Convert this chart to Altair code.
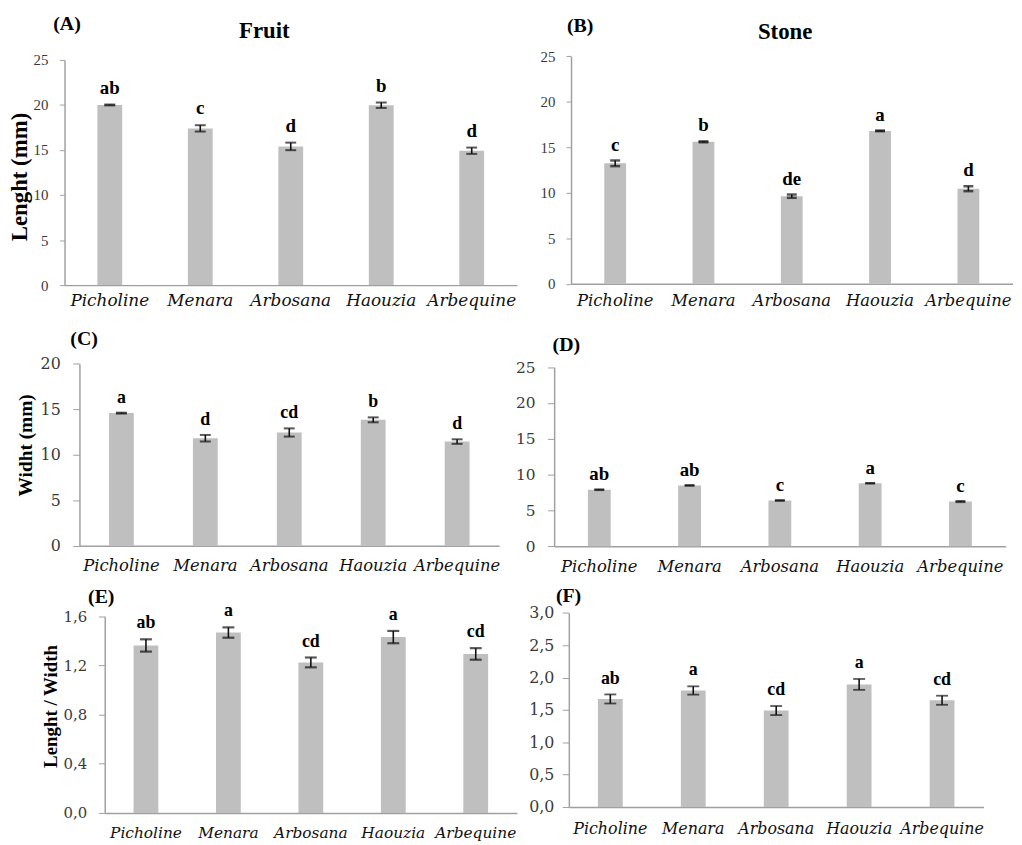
import altair as alt
import pandas as pd

cultivars = ["Picholine", "Menara", "Arbosana", "Haouzia", "Arbequine"]

# (A) Fruit length (mm)
fruit_len = [20.0, 17.4, 15.4, 19.97, 14.92]
fruit_len_err = [0.05, 0.35, 0.42, 0.3, 0.35]
fruit_len_let = ["ab", "c", "d", "b", "d"]

# (B) Stone length (mm)
stone_len = [13.24, 15.6, 9.63, 16.8, 10.45]
stone_len_err = [0.31, 0.05, 0.18, 0.03, 0.27]
stone_len_let = ["c", "b", "de", "a", "d"]

# (C) Fruit width (mm)
fruit_wid = [14.58, 11.82, 12.45, 13.84, 11.45]
fruit_wid_err = [0.05, 0.36, 0.45, 0.27, 0.25]
fruit_wid_let = ["a", "d", "cd", "b", "d"]

# (D) Stone width (mm)
stone_wid = [7.9, 8.5, 6.4, 8.8, 6.25]
stone_wid_err = [0.05, 0.05, 0.05, 0.04, 0.08]
stone_wid_let = ["ab", "ab", "c", "a", "c"]

# (E) Fruit length / width
fruit_ratio = [1.362, 1.467, 1.224, 1.43, 1.293]
fruit_ratio_err = [0.05, 0.042, 0.04, 0.05, 0.047]
fruit_ratio_let = ["ab", "a", "cd", "a", "cd"]

# (F) Stone length / width
stone_ratio = [1.669, 1.80, 1.49, 1.894, 1.649]
stone_ratio_err = [0.07, 0.064, 0.07, 0.084, 0.07]
stone_ratio_let = ["ab", "a", "cd", "a", "cd"]

ticks_25 = [0, 5, 10, 15, 20, 25]
ticks_20 = [0, 5, 10, 15, 20]
ticks_16 = [0, 0.4, 0.8, 1.2, 1.6]
ticks_30 = [0, 0.5, 1.0, 1.5, 2.0, 2.5, 3.0]

SERIF = "Liberation Serif"
WIDE = "DejaVu Serif"
BAR = "#bfbfbf"
AXC = "#a0a0a0"

# grid cells (pixels)
COL_W = [512, 502]
ROW_H = [310, 268, 259]


def label(text, xy, size, angle=0):
    return alt.Chart(pd.DataFrame({"t": [text]})).mark_text(
        font=SERIF, fontWeight="bold", fontSize=size, baseline="middle", align="center",
        color="#000000", angle=angle
    ).encode(x=alt.value(xy[0]), y=alt.value(xy[1]), text="t:N")


def panel(cw, chh, vals, errs, lets, ymax, yticks, comma,
          xr, yr, bar, cap, capw,
          tick_font, tick_fs, tick_size, label_pad,
          xfs, xpad, ytitle, ytitle_fs, ytitle_xy,
          let_fs, let_gap, tag, tag_xy, head=None, head_xy=None):
    df = pd.DataFrame({
        "cat": cultivars,
        "val": vals,
        "lo": [v - e for v, e in zip(vals, errs)],
        "hi": [v + e for v, e in zip(vals, errs)],
        "let": lets,
    })
    yscale = alt.Scale(domain=[0, ymax], range=[yr[0], yr[1]], nice=False, zero=True)
    xenc = alt.X(
        "cat:N", sort=cultivars, title=None,
        scale=alt.Scale(range=[xr[0], xr[1]], paddingInner=0, paddingOuter=0),
        axis=alt.Axis(labelAngle=0, ticks=False, labelPadding=xpad,
                      offset=-(chh - yr[0]),
                      labelFont=WIDE, labelFontStyle="italic", labelFontSize=xfs,
                      labelColor="#111111", labelBaseline="top",
                      labelOverlap=False, domainColor=AXC, domainWidth=1.5),
    )
    yaxis_kw = dict(
        values=yticks, grid=False, tickSize=tick_size, tickColor=AXC,
        offset=-xr[0], title=None,
        domainColor=AXC, domainWidth=1.5, labelFont=tick_font,
        labelFontSize=tick_fs, labelColor="#3a3a3a", labelPadding=label_pad,
    )
    if comma:
        yaxis_kw["labelExpr"] = "replace(format(datum.value, '.1f'), '.', ',')"
    yaxis = alt.Axis(**yaxis_kw)
    base = alt.Chart(df).encode(x=xenc)
    bars = base.mark_bar(size=bar, color=BAR).encode(
        y=alt.Y("val:Q", scale=yscale, axis=yaxis)
    )
    rules = base.mark_rule(color="#111111", strokeWidth=1.6).encode(
        y=alt.Y("lo:Q", scale=yscale, axis=yaxis), y2="hi:Q"
    )
    cap_hi = base.mark_tick(size=cap, thickness=capw, color="#111111").encode(
        y=alt.Y("hi:Q", scale=yscale, axis=yaxis)
    )
    cap_lo = base.mark_tick(size=cap, thickness=capw, color="#111111").encode(
        y=alt.Y("lo:Q", scale=yscale, axis=yaxis)
    )
    letters = base.mark_text(font=SERIF, fontWeight="bold", fontSize=let_fs,
                             baseline="alphabetic", dy=-let_gap, color="#000000").encode(
        y=alt.Y("hi:Q", scale=yscale, axis=yaxis), text="let:N"
    )
    layers = [bars, rules, cap_hi, cap_lo, letters, label(tag, tag_xy, 20)]
    if head:
        layers.append(label(head, head_xy, 23))
    if ytitle:
        layers.append(label(ytitle, ytitle_xy, ytitle_fs, angle=270))
    return alt.layer(*layers).properties(width=cw, height=chh)


pA = panel(COL_W[0], ROW_H[0], fruit_len, fruit_len_err, fruit_len_let, 25, ticks_25, False,
           (57, 513), (276, 49), 25, 11, 2,
           SERIF, 15, 5, 11.7, 17, 8, "Lenght (mm)", 23, (12, 167),
           19, 11, "(A)", (59.5, 13), "Fruit", (258.4, 19.5))
pB = panel(COL_W[1], ROW_H[0], stone_len, stone_len_err, stone_len_let, 25, ticks_25, False,
           (55.5, 500.5), (274.7, 45.3), 22, 10, 2.5,
           SERIF, 15, 5, 11.2, 16.5, 9, None, 0, None,
           19, 10, "(B)", (64.7, 15.3), "Stone", (271.3, 21.2))
pC = panel(COL_W[0], ROW_H[1], fruit_wid, fruit_wid_err, fruit_wid_let, 20, ticks_20, False,
           (72, 495), (228.7, 45.3), 25, 11, 2,
           WIDE, 16, 6.7, 12.6, 16.5, 12, "Widht (mm)", 19.5, (17.8, 127.5),
           18, 10, "(C)", (76.7, 20))
pD = panel(COL_W[1], ROW_H[1], stone_wid, stone_wid_err, stone_wid_let, 25, ticks_25, False,
           (38.5, 493.5), (229.3, 48.7), 23, 10, 2,
           WIDE, 15.5, 6.7, 12.5, 16.5, 12.5, None, 0, None,
           19, 9.5, "(D)", (50.8, 26.7))
pE = panel(COL_W[0], ROW_H[2], fruit_ratio, fruit_ratio_err, fruit_ratio_let, 1.6, ticks_16, True,
           (97.5, 513), (230, 31.7), 25, 12, 2.2,
           WIDE, 15, 6.2, 12, 15.5, 13, "Lenght / Width", 19, (43, 122.7),
           18, 11, "(E)", (94, 12.3))
pF = panel(COL_W[1], ROW_H[2], stone_ratio, stone_ratio_err, stone_ratio_let, 3.0, ticks_30, True,
           (53.3, 471.3), (224, 28.3), 25, 12, 1.8,
           WIDE, 16, 6.6, 8.4, 16, 14, None, 0, None,
           18, 11, "(F)", (53, 11.7))

chart = alt.concat(pA, pB, pC, pD, pE, pF, columns=2, bounds="flush", spacing=0).properties(
    padding=0
).configure_view(stroke=None)

chart.save("out.html", embed_options={"renderer": "svg", "actions": False})
